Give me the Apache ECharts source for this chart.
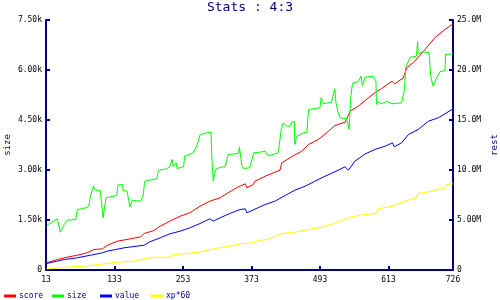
<!DOCTYPE html>
<html>
<head>
<meta charset="utf-8">
<script src="https://cdn.jsdelivr.net/npm/echarts@6/dist/echarts.min.js"></script>
<style>html,body{margin:0;padding:0;background:#fff}#c{width:500px;height:300px}</style>
</head>
<body>
<div id="c"></div>
<script>
// ---- data (x = sample index) ----
var xTicks = [13, 133, 253, 373, 493, 613, 726];
var leftTickLabels = ['0', '1.50k', '3.00k', '4.50k', '6.00k', '7.50k'];
var rightTickLabels = ['0', '5.00M', '10.0M', '15.0M', '20.0M', '25.0M'];
var seriesNames = ['score', 'size', 'value', 'xp*60'];

var scoreData = [[14,0.72e6],[33,1.05e6],[50,1.28e6],[68,1.48e6],[85,1.72e6],[97,2.05e6],[112,2.12e6],[120,2.45e6],[138,2.88e6],[161,3.12e6],[179,3.32e6],[185,3.65e6],[202,3.95e6],[213,4.38e6],[230,4.88e6],[248,5.38e6],[265,5.72e6],[283,6.38e6],[300,6.88e6],[318,7.22e6],[332,7.72e6],[350,8.32e6],[362,8.62e6],[365,8.22e6],[376,8.55e6],[379,8.88e6],[388,9.12e6],[397,9.38e6],[414,9.78e6],[423,9.98e6],[426,10.72e6],[443,11.32e6],[461,11.88e6],[473,12.55e6],[490,13.05e6],[508,13.88e6],[519,14.45e6],[537,14.78e6],[546,15.88e6],[560,16.38e6],[572,16.95e6],[589,17.72e6],[601,18.15e6],[619,18.88e6],[624,18.62e6],[639,19.22e6],[645,20.22e6],[659,20.88e6],[677,22.05e6],[694,23.22e6],[712,24.05e6],[726,24.62e6]];

var sizeData = [[14,1335],[33,1536],[36,1566],[38,1134],[45,1365],[50,1494],[65,1515],[68,1815],[83,1866],[88,1914],[91,2214],[96,2514],[100,2394],[108,2394],[110,2064],[113,1566],[118,2166],[120,2170],[126,2196],[137,2235],[139,2556],[147,2556],[148,2385],[155,2364],[160,1896],[164,2094],[167,2034],[179,2064],[183,2214],[186,2664],[193,2694],[202,2715],[207,2736],[210,2994],[224,3036],[230,3096],[234,3315],[236,3096],[241,3216],[243,3045],[254,3096],[256,3414],[271,3516],[277,3714],[283,4065],[295,4116],[302,4134],[304,3216],[306,2664],[310,3015],[318,3084],[327,3096],[332,3465],[350,3495],[352,3684],[356,3135],[359,3045],[370,3066],[377,3516],[388,3534],[397,3564],[400,3465],[405,3435],[420,3516],[425,4215],[429,4416],[435,4314],[440,4314],[443,4434],[448,4455],[449,3765],[452,3996],[461,4095],[470,4134],[473,4815],[481,4836],[493,4866],[495,5166],[499,4986],[513,5034],[519,5436],[521,5016],[525,4716],[528,4566],[540,4536],[544,4215],[547,5214],[550,5595],[560,5655],[565,5814],[567,5535],[571,5715],[572,5784],[586,5814],[591,5664],[592,4965],[595,5046],[601,4986],[610,5064],[619,4986],[636,5016],[641,5415],[643,6066],[651,6384],[662,6414],[664,6846],[665,6486],[674,6546],[684,6516],[687,5814],[691,5514],[696,5715],[703,5946],[712,5985],[713,6465],[726,6486]];

var valueData = [[14,0.65e6],[45,1.05e6],[68,1.22e6],[91,1.48e6],[112,1.72e6],[120,1.88e6],[150,2.22e6],[185,2.48e6],[195,2.82e6],[213,3.22e6],[230,3.62e6],[248,3.88e6],[265,4.22e6],[283,4.65e6],[300,5.12e6],[306,4.88e6],[318,5.22e6],[335,5.65e6],[353,6.05e6],[362,6.12e6],[365,5.72e6],[388,6.32e6],[397,6.55e6],[414,6.88e6],[432,7.45e6],[449,7.98e6],[467,8.38e6],[484,8.88e6],[502,9.38e6],[519,9.82e6],[537,10.32e6],[543,9.98e6],[554,10.88e6],[572,11.6e6],[589,12.05e6],[607,12.38e6],[620,12.72e6],[623,12.32e6],[636,12.72e6],[648,13.55e6],[665,14.05e6],[683,14.88e6],[700,15.22e6],[712,15.62e6],[726,16.12e6]];

var xpData = [[14,0.12e6],[27,0.15e6],[45,0.28e6],[80,0.38e6],[115,0.62e6],[138,0.78e6],[167,0.88e6],[185,1.12e6],[202,1.28e6],[230,1.28e6],[236,1.55e6],[254,1.62e6],[283,1.82e6],[309,2.15e6],[335,2.38e6],[353,2.62e6],[376,2.72e6],[385,2.95e6],[402,3.05e6],[426,3.65e6],[449,3.78e6],[473,4.05e6],[496,4.28e6],[522,4.72e6],[546,5.28e6],[572,5.55e6],[592,5.65e6],[595,6.12e6],[619,6.38e6],[642,6.88e6],[662,7.22e6],[665,7.65e6],[689,7.88e6],[712,8.22e6],[715,8.55e6],[726,8.62e6]];

var colors = ['#ff0000', '#00ff00', '#0000ff', '#ffff00'];
var navy = '#000080';
var mono = 'DejaVu Sans Mono';

var chart = echarts.init(document.getElementById('c'), null, {renderer: 'canvas'});

var legendLefts = [4, 52, 100, 151];
var legends = seriesNames.map(function (n, i) {
  return {
    data: [n], left: legendLefts[i], top: 292, orient: 'horizontal',
    icon: 'rect', itemWidth: 12, itemHeight: 3, itemGap: 0, padding: 0,
    selectedMode: false,
    textStyle: {fontFamily: mono, fontSize: 8, color: navy, padding: [0, 0, 0, -2]}
  };
});

function axisCommon() {
  return {
    axisLine: {show: true, lineStyle: {color: navy, width: 2}},
    axisTick: {show: true, inside: true, length: 4, lineStyle: {color: navy, width: 2}},
    splitLine: {show: false},
    axisLabel: {fontFamily: mono, fontSize: 8, color: '#000'}
  };
}

var xAxis = axisCommon();
xAxis.type = 'value'; xAxis.min = 13; xAxis.max = 726;
xAxis.axisTick.customValues = xTicks;
xAxis.axisLabel.customValues = xTicks;
xAxis.axisLabel.margin = 6;

var yLeft = axisCommon();
yLeft.type = 'value'; yLeft.min = 0; yLeft.max = 7500; yLeft.interval = 1500;
yLeft.position = 'left';
yLeft.name = 'size'; yLeft.nameLocation = 'middle'; yLeft.nameGap = 34; yLeft.nameRotate = 90;
yLeft.nameMoveOverlap = false;
yLeft.nameTextStyle = {fontFamily: mono, fontSize: 9, color: navy};
yLeft.axisLabel.margin = 4;
yLeft.axisLabel.formatter = function (v) { return leftTickLabels[Math.round(v / 1500)]; };

var yRight = axisCommon();
yRight.type = 'value'; yRight.min = 0; yRight.max = 25e6; yRight.interval = 5e6;
yRight.position = 'right';
yRight.name = 'rest'; yRight.nameLocation = 'middle'; yRight.nameGap = 37; yRight.nameRotate = 90;
yRight.nameMoveOverlap = false;
yRight.nameTextStyle = {fontFamily: mono, fontSize: 9, color: navy};
yRight.axisLabel.margin = 4;
yRight.axisLabel.formatter = function (v) { return rightTickLabels[Math.round(v / 5e6)]; };

function mk(name, data, yIdx, color) {
  return {
    name: name, type: 'line', data: data, yAxisIndex: yIdx, xAxisIndex: 0,
    showSymbol: false, symbol: 'none', smooth: false,
    lineStyle: {color: color, width: 1}, itemStyle: {color: color}
  };
}

chart.setOption({
  animation: false,
  backgroundColor: '#fff',
  title: {text: 'Stats : 4:3', left: 'center', top: 1, padding: 0,
          textStyle: {fontFamily: mono, fontSize: 13, fontWeight: 'normal', color: navy}},
  legend: legends,
  grid: {left: 46, right: 47, top: 20, bottom: 30, containLabel: false, outerBoundsMode: 'none'},
  xAxis: xAxis,
  yAxis: [yLeft, yRight],
  series: [
    mk(seriesNames[0], scoreData, 1, colors[0]),
    mk(seriesNames[1], sizeData, 0, colors[1]),
    mk(seriesNames[2], valueData, 1, colors[2]),
    mk(seriesNames[3], xpData, 1, colors[3])
  ]
});
</script>
</body>
</html>
